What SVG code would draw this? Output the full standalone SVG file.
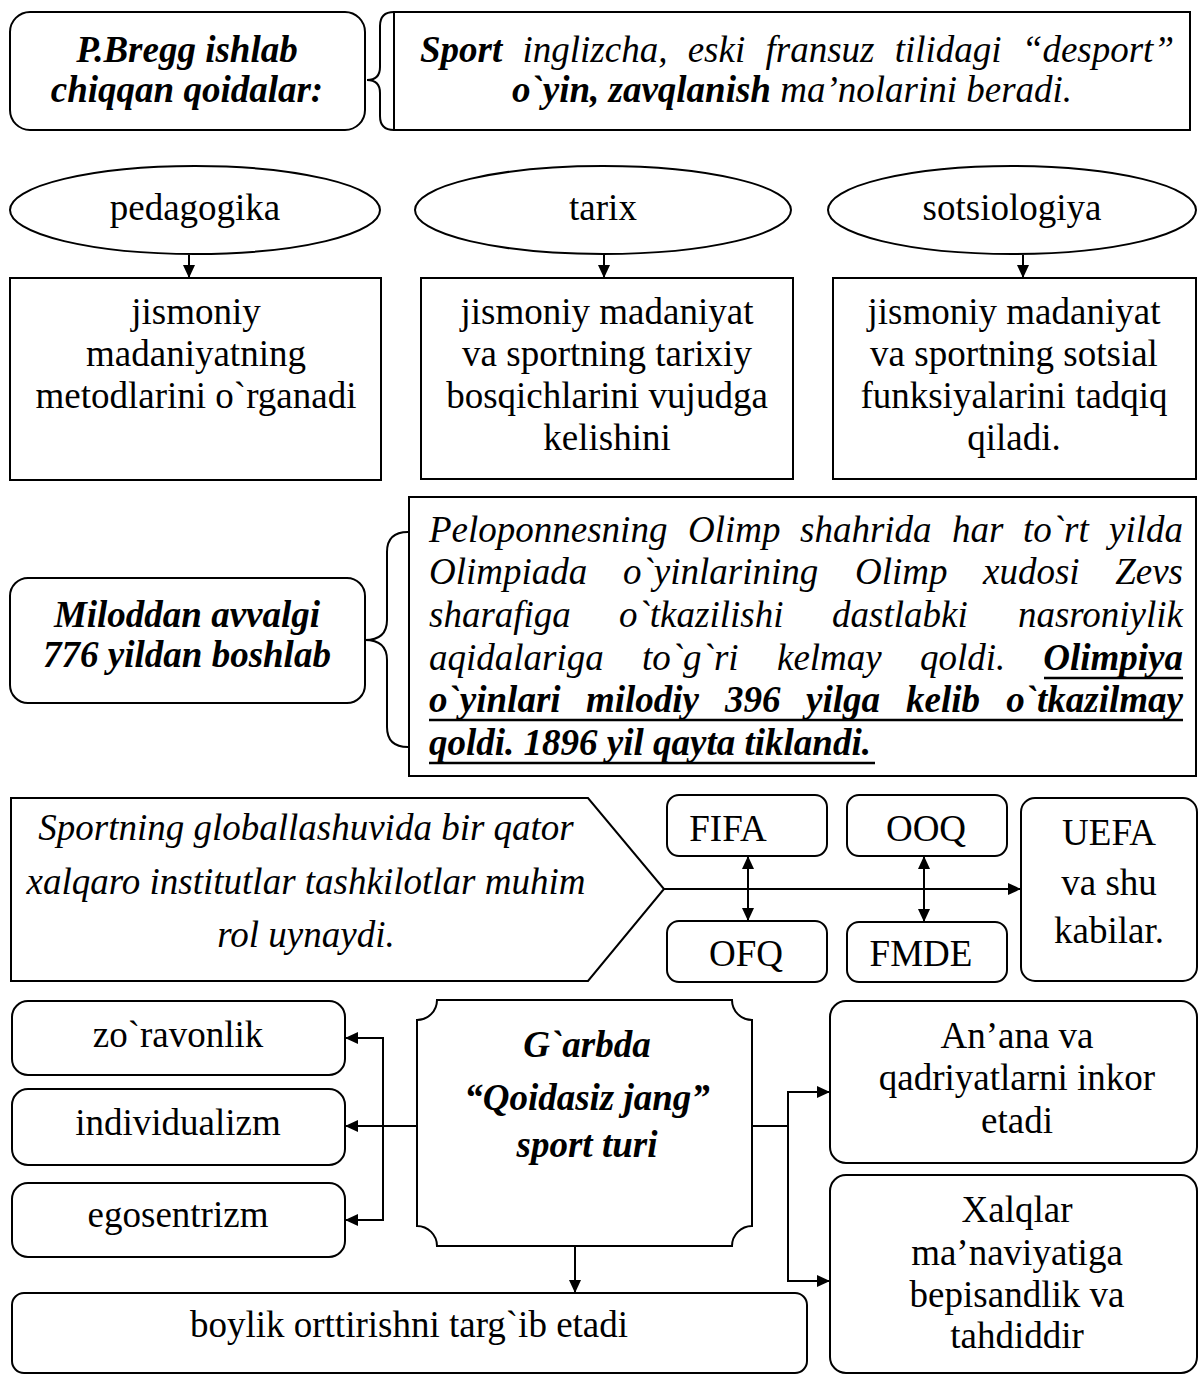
<svg xmlns="http://www.w3.org/2000/svg" width="1198" height="1376" viewBox="0 0 1198 1376">
<style>
.t{font-family:"Liberation Serif","Times New Roman",serif;font-size:37px;fill:#000}
.m{text-anchor:middle}
.e{text-anchor:end}
.i{font-style:italic}
.b{font-weight:bold}
.s{fill:#fff;stroke:#000;stroke-width:2}
.c{fill:none;stroke:#000;stroke-width:2}
.u{stroke:#000;stroke-width:2.5}
</style>
<defs>
<marker id="ah" viewBox="0 0 13 12" refX="13" refY="6" markerWidth="13" markerHeight="12" markerUnits="userSpaceOnUse" orient="auto-start-reverse"><path d="M0,0 L13,6 L0,12 z" fill="#000"/></marker>
</defs>
<rect width="1198" height="1376" fill="#fff"/>

<g id="connectors">
<path class="c" d="M367,80 Q380,80 380,67 L380,26 Q380,12 394,12 M367,80 Q380,80 380,93 L380,116 Q380,130 394,130"/>
<path class="c" d="M365,640 Q387,640 387,620 L387,552 Q387,532 408,532 M365,640 Q387,640 387,660 L387,727 Q387,747 408,747"/>
<line class="c" x1="189" y1="255" x2="189" y2="278" marker-end="url(#ah)"/>
<line class="c" x1="604" y1="255" x2="604" y2="278" marker-end="url(#ah)"/>
<line class="c" x1="1023" y1="255" x2="1023" y2="278" marker-end="url(#ah)"/>
<line class="c" x1="664" y1="889" x2="1021" y2="889" marker-end="url(#ah)"/>
<line class="c" x1="748" y1="856" x2="748" y2="921" marker-start="url(#ah)" marker-end="url(#ah)"/>
<line class="c" x1="924" y1="856" x2="924" y2="922" marker-start="url(#ah)" marker-end="url(#ah)"/>
<line class="c" x1="417" y1="1126" x2="345" y2="1126" marker-end="url(#ah)"/>
<path class="c" d="M383,1038 L383,1220"/>
<line class="c" x1="384" y1="1038" x2="345" y2="1038" marker-end="url(#ah)"/>
<line class="c" x1="384" y1="1220" x2="345" y2="1220" marker-end="url(#ah)"/>
<line class="c" x1="575" y1="1246" x2="575" y2="1293" marker-end="url(#ah)"/>
<path class="c" d="M752,1126 L788,1126 M788,1092 L788,1281"/>
<line class="c" x1="787" y1="1092" x2="830" y2="1092" marker-end="url(#ah)"/>
<line class="c" x1="787" y1="1281" x2="830" y2="1281" marker-end="url(#ah)"/>
</g>

<g id="bregg">
<rect class="s" x="10" y="12" width="355" height="118" rx="20"/>
<text class="t m i b" x="187" y="62">P.Bregg ishlab</text>
<text class="t m i b" x="187" y="102">chiqqan qoidalar:</text>
</g>

<g id="sport">
<rect class="s" x="394" y="12" width="796" height="118"/>
<text class="t m i" x="797" y="62" word-spacing="11"><tspan class="b">Sport</tspan> inglizcha, eski fransuz tilidagi “desport”</text>
<text class="t m i" x="792" y="102"><tspan class="b">o`yin, zavqlanish</tspan> ma’nolarini beradi.</text>
</g>

<g id="pedagogika">
<ellipse class="s" cx="195" cy="210" rx="185" ry="44"/>
<text class="t m" x="195" y="220">pedagogika</text>
</g>
<g id="tarix">
<ellipse class="s" cx="603" cy="210" rx="188" ry="44"/>
<text class="t m" x="603" y="220">tarix</text>
</g>
<g id="sotsiologiya">
<ellipse class="s" cx="1012" cy="210" rx="184" ry="44"/>
<text class="t m" x="1012" y="220">sotsiologiya</text>
</g>

<g id="metodlar">
<rect class="s" x="10" y="278" width="371" height="202"/>
<text class="t m" x="196" y="324">jismoniy</text>
<text class="t m" x="196" y="366">madaniyatning</text>
<text class="t m" x="196" y="408">metodlarini o`rganadi</text>
</g>
<g id="tarixiy">
<rect class="s" x="421" y="278" width="372" height="201"/>
<text class="t m" x="607" y="324">jismoniy madaniyat</text>
<text class="t m" x="607" y="366">va sportning tarixiy</text>
<text class="t m" x="607" y="408">bosqichlarini vujudga</text>
<text class="t m" x="607" y="450">kelishini</text>
</g>
<g id="sotsial">
<rect class="s" x="833" y="278" width="363" height="201"/>
<text class="t m" x="1014" y="324">jismoniy madaniyat</text>
<text class="t m" x="1014" y="366">va sportning sotsial</text>
<text class="t m" x="1014" y="408">funksiyalarini tadqiq</text>
<text class="t m" x="1014" y="450">qiladi.</text>
</g>

<g id="miloddan">
<rect class="s" x="10" y="578" width="355" height="125" rx="18"/>
<text class="t m i b" x="187" y="627">Miloddan avvalgi</text>
<text class="t m i b" x="187" y="667">776 yildan boshlab</text>
</g>

<g id="olimpiya">
<rect class="s" x="409" y="497" width="787" height="279"/>
<text class="t i" y="542"><tspan x="429">Peloponnesning</tspan><tspan x="688">Olimp</tspan><tspan x="800">shahrida</tspan><tspan x="952">har</tspan><tspan x="1023">to`rt</tspan></text>
<text class="t i e" x="1183" y="542">yilda</text>
<text class="t i" y="584"><tspan x="429">Olimpiada</tspan><tspan x="623">o`yinlarining</tspan><tspan x="855">Olimp</tspan><tspan x="983">xudosi</tspan></text>
<text class="t i e" x="1183" y="584">Zevs</text>
<text class="t i" y="627"><tspan x="429">sharafiga</tspan><tspan x="619">o`tkazilishi</tspan><tspan x="832">dastlabki</tspan></text>
<text class="t i e" x="1183" y="627">nasroniylik</text>
<text class="t i" y="670"><tspan x="429">aqidalariga</tspan><tspan x="642">to`g`ri</tspan><tspan x="777">kelmay</tspan><tspan x="920">qoldi.</tspan></text>
<text class="t i b e" x="1183" y="670">Olimpiya</text>
<text class="t i b" y="712"><tspan x="429">o`yinlari</tspan><tspan x="586">milodiy</tspan><tspan x="725">396</tspan><tspan x="806">yilga</tspan><tspan x="906">kelib</tspan></text>
<text class="t i b e" x="1183" y="712">o`tkazilmay</text>
<text class="t i b" x="429" y="755">qoldi. 1896 yil qayta tiklandi.</text>
<line class="u" x1="1044" y1="678" x2="1183" y2="678"/>
<line class="u" x1="429" y1="720" x2="1183" y2="720"/>
<line class="u" x1="429" y1="763" x2="875" y2="763"/>
</g>

<g id="globallashuv">
<path class="s" d="M11,798 L588,798 L664,889 L588,981 L11,981 Z"/>
<text class="t m i" x="306" y="840">Sportning globallashuvida bir qator</text>
<text class="t m i" x="306" y="894">xalqaro institutlar tashkilotlar muhim</text>
<text class="t m i" x="306" y="947">rol uynaydi.</text>
</g>

<g id="fifa">
<rect class="s" x="667" y="795" width="160" height="61" rx="12"/>
<text class="t m" x="728" y="841">FIFA</text>
</g>
<g id="ooq">
<rect class="s" x="847" y="795" width="160" height="61" rx="12"/>
<text class="t m" x="926" y="841">OOQ</text>
</g>
<g id="ofq">
<rect class="s" x="667" y="921" width="160" height="61" rx="12"/>
<text class="t m" x="746" y="966">OFQ</text>
</g>
<g id="fmde">
<rect class="s" x="847" y="922" width="160" height="60" rx="12"/>
<text class="t m" x="921" y="966">FMDE</text>
</g>
<g id="uefa">
<rect class="s" x="1021" y="798" width="176" height="183" rx="14"/>
<text class="t m" x="1109" y="845">UEFA</text>
<text class="t m" x="1109" y="895">va shu</text>
<text class="t m" x="1109" y="943">kabilar.</text>
</g>

<g id="zoravonlik">
<rect class="s" x="12" y="1001" width="333" height="74" rx="16"/>
<text class="t m" x="178" y="1047">zo`ravonlik</text>
</g>
<g id="individualizm">
<rect class="s" x="12" y="1089" width="333" height="76" rx="16"/>
<text class="t m" x="178" y="1135">individualizm</text>
</g>
<g id="egosentrizm">
<rect class="s" x="12" y="1183" width="333" height="74" rx="16"/>
<text class="t m" x="178" y="1227">egosentrizm</text>
</g>

<g id="garbda">
<path class="s" d="M437,1000 L732,1000 A20,20 0 0 0 752,1020 L752,1226 A20,20 0 0 0 732,1246 L437,1246 A20,20 0 0 0 417,1226 L417,1020 A20,20 0 0 0 437,1000 Z"/>
<text class="t m i b" x="587" y="1057">G`arbda</text>
<text class="t m i b" x="587" y="1110">“Qoidasiz jang”</text>
<text class="t m i b" x="587" y="1157">sport turi</text>
</g>

<g id="boylik">
<rect class="s" x="12" y="1293" width="795" height="80" rx="12"/>
<text class="t m" x="409" y="1337">boylik orttirishni targ`ib etadi</text>
</g>

<g id="anana">
<rect class="s" x="830" y="1001" width="367" height="162" rx="16"/>
<text class="t m" x="1017" y="1048">An’ana va</text>
<text class="t m" x="1017" y="1090">qadriyatlarni inkor</text>
<text class="t m" x="1017" y="1133">etadi</text>
</g>
<g id="xalqlar">
<rect class="s" x="830" y="1175" width="367" height="198" rx="16"/>
<text class="t m" x="1017" y="1222">Xalqlar</text>
<text class="t m" x="1017" y="1265">ma’naviyatiga</text>
<text class="t m" x="1017" y="1307">bepisandlik va</text>
<text class="t m" x="1017" y="1348">tahdiddir</text>
</g>
</svg>
